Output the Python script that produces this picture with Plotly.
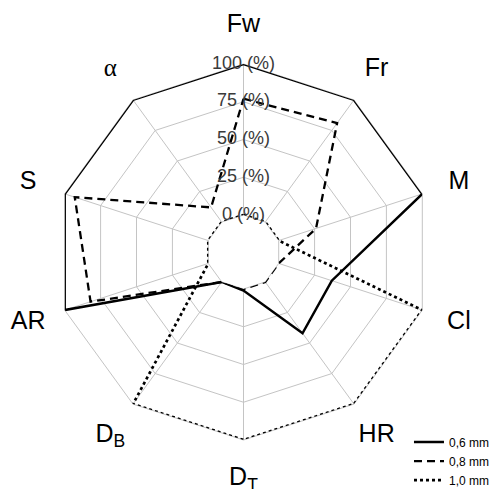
import plotly.graph_objects as go

categories = ['Fw', 'Fr', 'M', 'Cl', 'HR', 'D_T', 'D_B', 'AR', 'S', 'α']
category_labels = ['Fw', 'Fr', 'M', 'Cl', 'HR', 'D<sub>T</sub>', 'D<sub>B</sub>', 'AR', 'S',
                   '<span style="font-family:Liberation Serif">α</span>']
series_names = ['0,6 mm', '0,8 mm', '1,0 mm']
values_06 = [100, 100, 100, 37, 42, 1, 0, 100, 100, 100]
values_08 = [77, 81, 26, 0, 0, 0, 0, 82, 93, 12]
values_10 = [0, 0, 0, 100, 100, 100, 100, 0, 0, 0]
radial_ticks = [0, 25, 50, 75, 100]
radial_tick_labels = ['0 (%)', '25 (%)', '50 (%)', '75 (%)', '100 (%)']
label_radius = 125.5

# page has an 8px body margin; figure sized so the whole page is 502x489
W, H = 494, 481
cx, cy, R = 235.5, 244, 188
HOLE = 37 / 188
LABEL_DY = 0.5  # category labels sit a little lower than tick labels

px_per_unit = R * (1 - HOLE) / 100.0


def overlay_polar(cyy):
    rr = min(cx, W - cx, cyy, H - cyy) - 0.5
    rmin = -(R * HOLE) / px_per_unit
    rmax = rmin + rr / px_per_unit
    return dict(
        domain=dict(x=[(cx - rr) / W, (cx + rr) / W],
                    y=[(H - cyy - rr) / H, (H - cyy + rr) / H]),
        bgcolor='rgba(0,0,0,0)',
        gridshape='circular',
        radialaxis=dict(range=[rmin, rmax], visible=False, showgrid=False),
        angularaxis=dict(categoryorder='array', categoryarray=categories,
                         rotation=90, direction='clockwise', visible=False,
                         showgrid=False, showline=False, showticklabels=False, ticks=''),
    )


fig = go.Figure()

styles = [
    dict(color='black', width=2.5, dash='solid'),
    dict(color='black', width=2.3, dash='8px,5px'),
    dict(color='black', width=2.7, dash='3px,3px'),
]
for name, vals, st in zip(series_names, [values_06, values_08, values_10], styles):
    fig.add_trace(go.Scatterpolar(
        r=vals + vals[:1], theta=categories + categories[:1],
        mode='lines', name=name, line=st, hoverinfo='skip', cliponaxis=False))

fig.add_trace(go.Scatterpolar(
    r=radial_ticks, theta=[categories[0]] * len(radial_ticks),
    mode='text', text=radial_tick_labels, textposition='middle center',
    textfont=dict(family='Liberation Sans', size=18, color='#3a3a3a'),
    showlegend=False, hoverinfo='skip', cliponaxis=False, subplot='polar2'))

fig.add_trace(go.Scatterpolar(
    r=[label_radius] * len(categories), theta=categories,
    mode='text', text=category_labels, textposition='middle center',
    textfont=dict(family='Liberation Sans', size=25, color='black'),
    showlegend=False, hoverinfo='skip', cliponaxis=False, subplot='polar3'))

grid = '#c4c4c4'
fig.update_layout(
    width=W, height=H,
    margin=dict(l=0, r=0, t=0, b=0, autoexpand=False),
    paper_bgcolor='white', plot_bgcolor='white',
    showlegend=True,
    legend=dict(x=0.8117, y=-0.0115, xanchor='left', yanchor='bottom',
                font=dict(family='Liberation Sans', size=12, color='black'),
                bgcolor='rgba(0,0,0,0)', itemwidth=30, tracegroupgap=0),
    polar=dict(
        domain=dict(x=[(cx - R) / W, (cx + R) / W],
                    y=[(H - cy - R) / H, (H - cy + R) / H]),
        bgcolor='white',
        hole=HOLE,
        gridshape='linear',
        radialaxis=dict(range=[0, 100], tickvals=radial_ticks, showticklabels=False,
                        ticks='', showline=False, gridcolor=grid, gridwidth=1,
                        layer='below traces'),
        angularaxis=dict(categoryorder='array', categoryarray=categories,
                         rotation=90, direction='clockwise',
                         showticklabels=False, ticks='',
                         showline=True, linecolor=grid, linewidth=1,
                         gridcolor=grid, gridwidth=1, layer='below traces'),
    ),
    polar2=overlay_polar(cy),
    polar3=overlay_polar(cy + LABEL_DY),
)

fig.write_html('out.html')
